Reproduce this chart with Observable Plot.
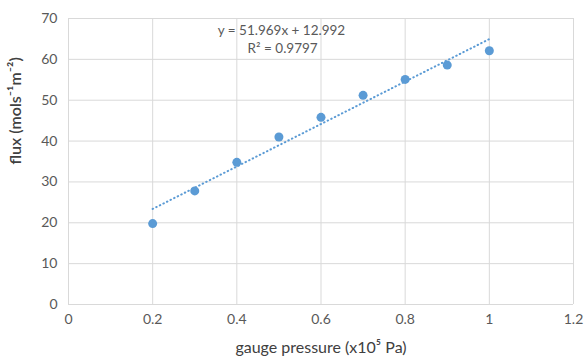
<!DOCTYPE html>
<html><head><meta charset="utf-8">
<script src="https://cdn.jsdelivr.net/npm/d3@7"></script>
<script src="https://cdn.jsdelivr.net/npm/@observablehq/plot@0.6"></script>
<style>
body{margin:0;background:#fff;}
svg{font-family:Lato,"Open Sans",sans-serif;}
</style>
</head><body><div id="chart"></div>
<script>
const pressure = [0.2, 0.3, 0.4, 0.5, 0.6, 0.7, 0.8, 0.9, 1.0];
const flux = [19.8, 27.8, 34.8, 41.0, 45.8, 51.2, 55.1, 58.6, 62.1];
const xTicks = [0, 0.2, 0.4, 0.6, 0.8, 1.0, 1.2];
const yTicks = [0, 10, 20, 30, 40, 50, 60, 70];
const slope = 51.969, intercept = 12.992;
const trendX = [0.2, 1.0];
const eqText = "y = 51.969x + 12.992";
const r2Text = "R² = 0.9797";
const xLabel = "gauge pressure (x10⁵ Pa)";
const yLabel = "flux (mols⁻¹m⁻²)";

const points = pressure.map((p, i) => ({x: p, y: flux[i]}));
const trend = trendX.map(x => ({x, y: slope * x + intercept}));
const grey = "#595959";
const dark = "#404040";
const blue = "#5b9bd5";

const chart = Plot.plot({
  width: 586, height: 357,
  marginLeft: 68, marginRight: 13, marginTop: 18, marginBottom: 53,
  style: {fontSize: "14px", color: grey, fontFamily: "Lato, 'Open Sans', sans-serif"},
  x: {domain: [0, 1.2], ticks: xTicks},
  y: {domain: [0, 70], ticks: yTicks},
  marks: [
    Plot.gridX(xTicks, {stroke: "#d9d9d9", strokeOpacity: 1}),
    Plot.gridY(yTicks, {stroke: "#d9d9d9", strokeOpacity: 1}),
    Plot.axisX(xTicks, {tickSize: 0, tickPadding: 10, tickFormat: d => String(+d.toFixed(1)),
      fill: grey, fontSize: 14, label: null}),
    Plot.axisY(yTicks, {tickSize: 0, tickPadding: 11, fill: grey, fontSize: 14, label: null}),
    Plot.text([xLabel], {frameAnchor: "bottom", dy: 43, text: d => d, fill: dark, fontSize: 16, lineAnchor: "middle"}),
    Plot.text([yLabel], {frameAnchor: "left", dx: -53, dy: 3, rotate: -90, text: d => d, fill: dark, fontSize: 16, fontWeight: 600, lineAnchor: "middle"}),
    Plot.line(trend, {x: "x", y: "y", stroke: blue, strokeWidth: 2, strokeDasharray: "0.5,3.5", strokeLinecap: "round"}),
    Plot.dot(points, {x: "x", y: "y", r: 4.5, fill: blue}),
    Plot.text([eqText], {x: 0.506, y: 67.0, text: d => d, fill: grey, fontSize: 13.5}),
    Plot.text([r2Text], {x: 0.592, y: 62.6, text: d => d, fill: grey, fontSize: 13.5, textAnchor: "end"})
  ]
});
document.getElementById("chart").appendChild(chart);
</script>
</body></html>
